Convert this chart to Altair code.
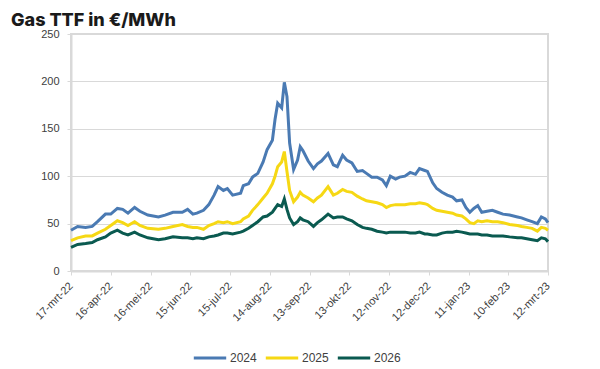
import altair as alt
import pandas as pd

# days after 17-mrt-22
day_offset = [0, 5, 11, 16, 20, 26, 30, 35, 39, 43, 48, 52, 58, 66, 71, 77, 84, 88, 92, 95,
              100, 104, 108, 111, 115, 118, 122, 128, 130, 134, 137, 141, 145, 148, 152, 154,
              156, 159, 161, 163, 165, 168, 171, 173, 175, 179, 183, 186, 189, 194, 198, 201,
              205, 208, 212, 216, 220, 223, 227, 231, 235, 238, 241, 245, 248, 252, 256, 260,
              263, 267, 269, 273, 276, 280, 284, 288, 291, 295, 298, 301, 304, 307, 310, 314,
              318, 322, 326, 331, 337, 340, 344, 348, 352, 355, 358, 360]

y2024 = [43, 47, 46, 47, 52, 60, 60, 66, 65, 61, 67, 63, 59, 57, 59, 62, 62, 65, 60, 61,
         64, 70, 80, 89, 85, 87, 80, 82, 90, 92, 99, 103, 115, 128, 138, 160,
         177, 172, 199, 184, 135, 107, 117, 131, 127, 116, 108, 113, 116, 124, 112, 110,
         122, 117, 114, 105, 106, 103, 99, 99, 96, 90, 100, 97, 99, 100, 104, 102,
         108, 106, 105, 93, 87, 83, 80, 78, 74, 75, 67, 62, 66, 69, 62, 63,
         64, 62, 60, 59, 57, 56, 54, 52, 50, 57, 55, 51]

y2025 = [32, 35, 37, 37, 40, 44, 48, 53, 51, 48, 52, 48, 45, 44, 45, 47, 49, 47, 46, 46,
         44, 48, 50, 52, 51, 52, 50, 52, 55, 58, 64, 70, 77, 82, 92, 100,
         110, 115, 126, 105, 85, 73, 78, 83, 80, 77, 73, 77, 80, 89, 80, 82,
         86, 84, 83, 79, 76, 74, 73, 72, 70, 67, 69, 70, 70, 70, 71, 71,
         72, 71, 70, 66, 64, 63, 62, 61, 59, 58, 55, 51, 50, 53, 52, 53,
         52, 52, 51, 49, 48, 47, 46, 45, 42, 46, 45, 43]

y2026 = [25, 28, 29, 30, 33, 36, 40, 43, 40, 38, 41, 38, 35, 33, 34, 36, 35, 35, 34, 35,
         34, 36, 37, 38, 40, 40, 39, 41, 42, 45, 48, 52, 57, 58, 62, 66,
         70, 68, 76, 65, 56, 49, 52, 56, 54, 52, 47, 51, 54, 60, 56, 57,
         57, 55, 53, 49, 46, 45, 44, 42, 41, 40, 41, 41, 41, 41, 40, 40,
         41, 39, 39, 38, 38, 40, 41, 41, 42, 41, 40, 39, 39, 39, 38, 38,
         37, 37, 37, 36, 35, 35, 34, 33, 32, 35, 34, 31]

series_names = ["2024", "2025", "2026"]
series_colors = ["#4a7ab3", "#f6d814", "#0a5a50"]
tick_offsets = [0, 30, 60, 90, 120, 150, 180, 210, 240, 270, 300, 330, 360]
title_text = ["Gas TTF in €/MWh"]

start = pd.Timestamp("2022-03-17")
dates = [start + pd.Timedelta(days=d) for d in day_offset]
df = pd.DataFrame({"date": dates, "2024": y2024, "2025": y2025, "2026": y2026})
long = df.melt(id_vars="date", var_name="serie", value_name="waarde")
long["date"] = long["date"].dt.strftime("%Y-%m-%dT00:00:00")

tick_values = []
for d in tick_offsets:
    t = start + pd.Timedelta(days=d)
    tick_values.append(alt.DateTime(year=t.year, month=t.month, date=t.day))

months_expr = "['jan','feb','mrt','apr','mei','jun','jul','aug','sep','okt','nov','dec']"
label_expr = ("date(datum.value) + '-' + " + months_expr +
              "[month(datum.value)] + '-' + timeFormat(datum.value, '%y')")

grey = "#d9d9d9"
label_col = "#404040"

lines = alt.Chart(long).mark_line(strokeWidth=3).encode(
    x=alt.X("date:T",
            scale=alt.Scale(domain=[alt.DateTime(year=2022, month=3, date=17),
                                    alt.DateTime(year=2023, month=3, date=12)]),
            axis=alt.Axis(values=tick_values, labelExpr=label_expr, labelAngle=-45,
                          labelAlign="right", labelBaseline="middle", grid=False,
                          labelOverlap=False, labelBound=False, labelFlush=False,
                          title=None, labelFont="Liberation Sans", labelFontSize=11,
                          labelColor=label_col, tickColor=grey, tickSize=4,
                          domainColor=grey, domainWidth=2, labelPadding=9)),
    y=alt.Y("waarde:Q",
            scale=alt.Scale(domain=[0, 250], nice=False),
            axis=alt.Axis(values=[0, 50, 100, 150, 200, 250], title=None,
                          gridColor=grey, gridWidth=1, domainColor=grey, domainWidth=2,
                          tickColor=grey, tickSize=4, labelPadding=8,
                          labelFont="Liberation Sans", labelFontSize=11,
                          labelColor=label_col)),
    color=alt.Color("serie:N",
                    scale=alt.Scale(domain=series_names, range=series_colors),
                    legend=alt.Legend(title=None, orient="none", direction="horizontal",
                                      legendX=121, legendY=306, symbolType="stroke",
                                      symbolSize=1050, symbolStrokeWidth=3,
                                      labelFont="Liberation Sans", labelFontSize=12,
                                      labelColor=label_col, columnPadding=2,
                                      labelOffset=2)),
)

title = alt.Chart(pd.DataFrame({"t": title_text})).mark_text(
    align="left", baseline="top", font="Inter", fontSize=18, fontWeight=800,
    color="#1a1a1a"
).encode(text="t:N", x=alt.value(-60), y=alt.value(-22))

chart = alt.layer(lines, title).properties(
    width=477,
    height=237,
    autosize=alt.AutoSizeParams(type="none"),
    padding={"left": 63, "top": 26, "right": 44, "bottom": 98},
).configure_view(stroke=grey, strokeWidth=2)

chart.save("out.html", embed_options={"renderer": "svg", "actions": False})
